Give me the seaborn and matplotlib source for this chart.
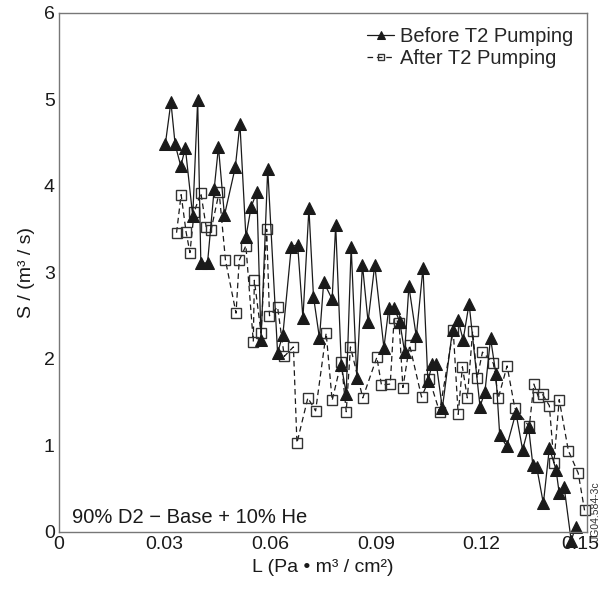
"""Pumping speed S vs throughput L, before/after T2 pumping."""

import matplotlib
matplotlib.use("Agg")
import matplotlib.pyplot as plt
import matplotlib.transforms as mtransforms
import pandas as pd
import seaborn as sns

# Before T2 pumping (filled triangles, solid line)
before_L = [0.0302, 0.0318, 0.0330, 0.0346, 0.0359, 0.0380, 0.0394, 0.0403, 0.0422, 0.0441,
            0.0453, 0.0470, 0.0501, 0.0514, 0.0531, 0.0546, 0.0562, 0.0574, 0.0593, 0.0621,
            0.0636, 0.0660, 0.0678, 0.0693, 0.0710, 0.0723, 0.0740, 0.0752, 0.0776, 0.0786,
            0.0802, 0.0816, 0.0830, 0.0846, 0.0862, 0.0878, 0.0897, 0.0923, 0.0937, 0.0952,
            0.0968, 0.0982, 0.0994, 0.1015, 0.1034, 0.1048, 0.1060, 0.1072, 0.1089, 0.1118,
            0.1134, 0.1148, 0.1165, 0.1196, 0.1210, 0.1226, 0.1241, 0.1252, 0.1272, 0.1298,
            0.1317, 0.1334, 0.1346, 0.1357, 0.1376, 0.1393, 0.1412, 0.1421, 0.1435, 0.1455,
            0.1468]
before_S = [4.48, 4.97, 4.48, 4.23, 4.44, 3.65, 4.99, 3.11, 3.11, 3.97,
            4.45, 3.66, 4.22, 4.72, 3.41, 3.76, 3.93, 2.22, 4.20, 2.07,
            2.28, 3.30, 3.32, 2.47, 3.74, 2.72, 2.24, 2.89, 2.69, 3.55,
            1.93, 1.60, 3.30, 1.78, 3.09, 2.43, 3.09, 2.13, 2.59, 2.59,
            2.43, 2.08, 2.84, 2.26, 3.05, 1.74, 1.94, 1.94, 1.43, 2.34,
            2.45, 2.22, 2.64, 1.45, 1.62, 2.24, 1.83, 1.12, 0.99, 1.38,
            0.95, 1.21, 0.78, 0.75, 0.33, 0.97, 0.72, 0.45, 0.52, -0.10,
            0.06]

# After T2 pumping (open squares, dashed line)
after_L = [0.0334, 0.0347, 0.0361, 0.0372, 0.0384, 0.0403, 0.0418, 0.0432, 0.0455, 0.0473,
           0.0503, 0.0512, 0.0531, 0.0552, 0.0555, 0.0574, 0.0590, 0.0598, 0.0621, 0.0640,
           0.0666, 0.0676, 0.0707, 0.0729, 0.0759, 0.0776, 0.0802, 0.0816, 0.0828, 0.0863,
           0.0903, 0.0916, 0.0941, 0.0952, 0.0966, 0.0977, 0.0996, 0.1030, 0.1052, 0.1081,
           0.1120, 0.1134, 0.1146, 0.1160, 0.1175, 0.1188, 0.1203, 0.1234, 0.1248, 0.1273,
           0.1295, 0.1336, 0.1349, 0.1362, 0.1374, 0.1393, 0.1406, 0.1421, 0.1447, 0.1475,
           0.1493]
after_S = [3.46, 3.90, 3.47, 3.23, 3.70, 3.92, 3.53, 3.49, 3.93, 3.14,
           2.53, 3.14, 3.31, 2.20, 2.91, 2.30, 3.50, 2.50, 2.60, 2.03,
           2.14, 1.03, 1.55, 1.40, 2.30, 1.52, 1.97, 1.39, 2.14, 1.55,
           2.02, 1.70, 1.71, 2.47, 2.42, 1.67, 2.16, 1.56, 1.77, 1.39,
           2.33, 1.36, 1.91, 1.55, 2.32, 1.78, 2.08, 1.95, 1.55, 1.92,
           1.43, 1.22, 1.71, 1.56, 1.59, 1.46, 0.80, 1.53, 0.94, 0.68,
           0.25]

x_ticks = [0, 0.03, 0.06, 0.09, 0.12, 0.15]
x_tick_labels = ["0", "0.03", "0.06", "0.09", "0.12", "0.15"]
y_ticks = [0, 1, 2, 3, 4, 5, 6]

sns.set_theme(style="white")
plt.rcParams["font.family"] = ["Liberation Sans", "DejaVu Sans"]

before = pd.DataFrame({"L": before_L, "S": before_S})
after = pd.DataFrame({"L": after_L, "S": after_S})

fig = plt.figure(figsize=(6.03, 5.99), dpi=100)
ax = fig.add_axes([0.0978, 0.1119, 0.8757, 0.8664])

ink = "#1a1a1a"
sns.lineplot(data=after, x="L", y="S", sort=False, ax=ax, color=ink, lw=0.9,
             linestyle=(0, (4.5, 3)), marker="s", markersize=7.5,
             markerfacecolor="none", markeredgecolor="#333333", markeredgewidth=1.0,
             label="After T2 Pumping", clip_on=False)
sns.lineplot(data=before, x="L", y="S", sort=False, ax=ax, color=ink, lw=0.9,
             marker="^", markersize=8.5, markerfacecolor=ink, markeredgecolor=ink,
             label="Before T2 Pumping", clip_on=False)

ax.set_xlim(0, 0.15)
ax.set_ylim(0, 6)
ax.set_xticks(x_ticks)
ax.set_xticklabels(x_tick_labels)
ax.set_yticks(y_ticks)
ax.tick_params(direction="in", length=8, width=0.9, color="#777777",
               labelsize=14, labelcolor="#1a1a1a", pad=3,
               top=False, right=False)
for s in ax.spines.values():
    s.set_color("#777777")
    s.set_linewidth(1.0)

# last x label sits a bit left of its tick so it stays inside the figure
last = ax.get_xticklabels()[-1]
last.set_transform(last.get_transform()
                   + mtransforms.ScaledTranslation(-5 / 72, 0, fig.dpi_scale_trans))

ax.set_xlabel("L (Pa • m³ / cm²)", fontsize=14, color="#1a1a1a", labelpad=4)
ax.set_ylabel("S / (m³ / s)", fontsize=14, color="#1a1a1a", labelpad=6)

# legend: Before first, After second, short handles, no frame
h, l = ax.get_legend_handles_labels()
leg = ax.legend(h[::-1], l[::-1], loc="upper right", frameon=False,
                fontsize=14.5, handlelength=1.3, handletextpad=0.3,
                borderaxespad=0.3, labelspacing=0.15, markerscale=0.6)
for line in leg.get_lines():
    line.set_linewidth(0.9)

ax.text(0.0037, 0.1, "90% D2 − Base + 10% He", fontsize=14.5,
        color="#1a1a1a", ha="left", va="baseline")
fig.text(0.988, 0.097, "JG04.584-3c", fontsize=7.5, rotation=90,
         color="#333333", ha="center", va="bottom")

fig.savefig("out.png", dpi=100)
